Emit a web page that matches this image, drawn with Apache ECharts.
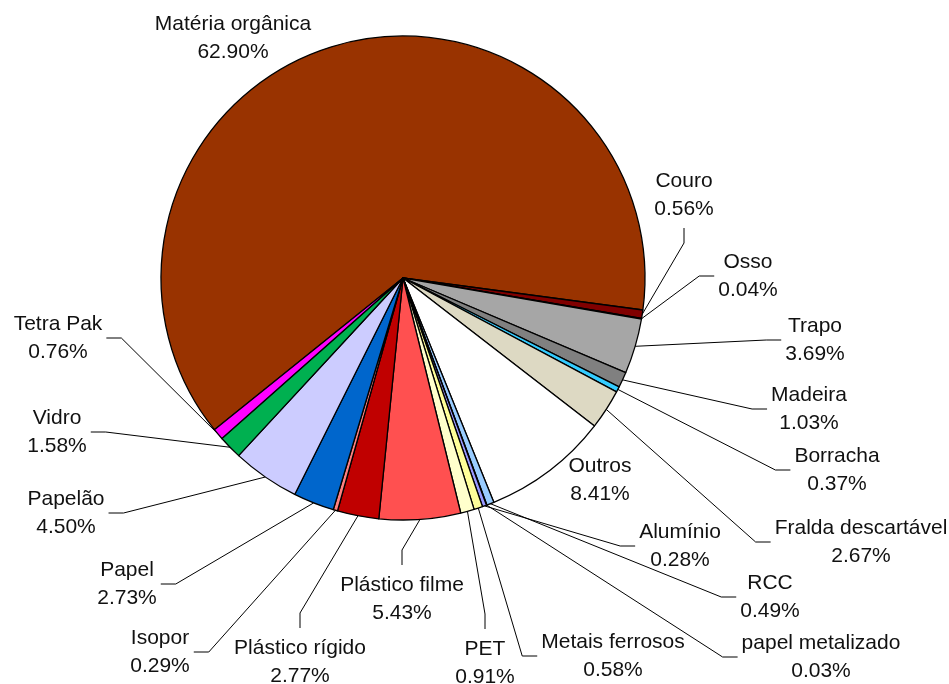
<!DOCTYPE html>
<html>
<head>
<meta charset="utf-8">
<script src="https://cdn.jsdelivr.net/npm/echarts@6/dist/echarts.min.js"></script>
<style>
html,body{margin:0;padding:0;background:#fff;}
#chart{width:949px;height:684px;}
</style>
</head>
<body>
<div id="chart"></div>
<script>
// ---- data ----
const categories = [
  'Matéria orgânica', 'Couro', 'Osso', 'Trapo', 'Madeira', 'Borracha',
  'Fralda descartável', 'Outros', 'RCC', 'papel metalizado', 'Alumínio',
  'Metais ferrosos', 'PET', 'Plástico filme', 'Plástico rígido', 'Isopor',
  'Papel', 'Papelão', 'Vidro', 'Tetra Pak'
];
const values = [
  62.90, 0.56, 0.04, 3.69, 1.03, 0.37,
  2.67, 8.41, 0.49, 0.03, 0.28,
  0.58, 0.91, 5.43, 2.77, 0.29,
  2.73, 4.50, 1.58, 0.76
];

// ---- styles / layout (not data) ----
const colors = [
  '#993300', '#800000', '#660000', '#A6A6A6', '#808080', '#33CCFF',
  '#DDD9C3', '#FFFFFF', '#99CCFF', '#CCCCFF', '#9999FF',
  '#FFFF99', '#FFFFCC', '#FF5050', '#C00000', '#FF8080',
  '#0066CC', '#CCCCFF', '#00B050', '#FF00FF'
];
// label block centre [x, y] and side of the label where the leader line attaches
const labelPos = [
  [233, 38, null], [684, 195, 'b'], [748, 276, 'l'], [815, 340, 'l'],
  [809, 409, 'l'], [837, 470, 'l'], [861, 542, 'l'], [600, 480, null],
  [770, 597, 'l'], [821, 657, 'l'], [680, 546, 'l'], [613, 656, 'l'],
  [485, 663, 't'], [402, 599, 't'], [300, 662, 't'], [160, 652, 'r'],
  [127, 584, 'r'], [66, 513, 'r'], [57, 432, 'r'], [58, 338, 'r']
];

const chart = echarts.init(document.getElementById('chart'), null, {renderer: 'canvas'});

const seriesData = categories.map((name, i) => ({
  name: name,
  value: values[i],
  itemStyle: {color: colors[i]},
  labelLine: {show: labelPos[i][2] !== null}
}));

chart.setOption({
  animation: false,
  backgroundColor: '#fff',
  series: [{
    type: 'pie',
    center: [403, 278],
    radius: 242,
    startAngle: 218.8,
    clockwise: true,
    avoidLabelOverlap: false,
    minShowLabelAngle: 0,
    data: seriesData,
    itemStyle: {borderColor: '#000', borderWidth: 1.3},
    label: {
      show: true,
      position: 'outside',
      color: '#111',
      fontFamily: 'Liberation Sans, Arial, sans-serif',
      fontSize: 21,
      lineHeight: 28,
      align: 'center',
      formatter: p => p.name + '\n' + p.value.toFixed(2) + '%'
    },
    labelLine: {
      show: true,
      length: 10,
      length2: 10,
      smooth: false,
      lineStyle: {color: '#000', width: 1}
    },
    emphasis: {disabled: true},
    labelLayout: function (p) {
      const i = p.dataIndex;
      const x = labelPos[i][0], y = labelPos[i][1], side = labelPos[i][2];
      const w = p.labelRect.width, h = p.labelRect.height;
      const res = {x: x, y: y, align: 'center', verticalAlign: 'middle', hideOverlap: false};
      if (side && p.labelLinePoints && p.labelLinePoints.length) {
        const e = p.labelLinePoints[0];
        let a, b;
        if (side === 'l') { a = [x - w / 2 - 4, y]; b = [a[0] - 15, y]; }
        else if (side === 'r') { a = [x + w / 2 + 4, y]; b = [a[0] + 15, y]; }
        else if (side === 't') { a = [x, y - h / 2 - 6]; b = [x, a[1] - 15]; }
        else { a = [x, y + h / 2 + 5]; b = [x, a[1] + 15]; }
        res.labelLinePoints = [[e[0], e[1]], b, a];
      }
      return res;
    }
  }]
});
</script>
</body>
</html>
